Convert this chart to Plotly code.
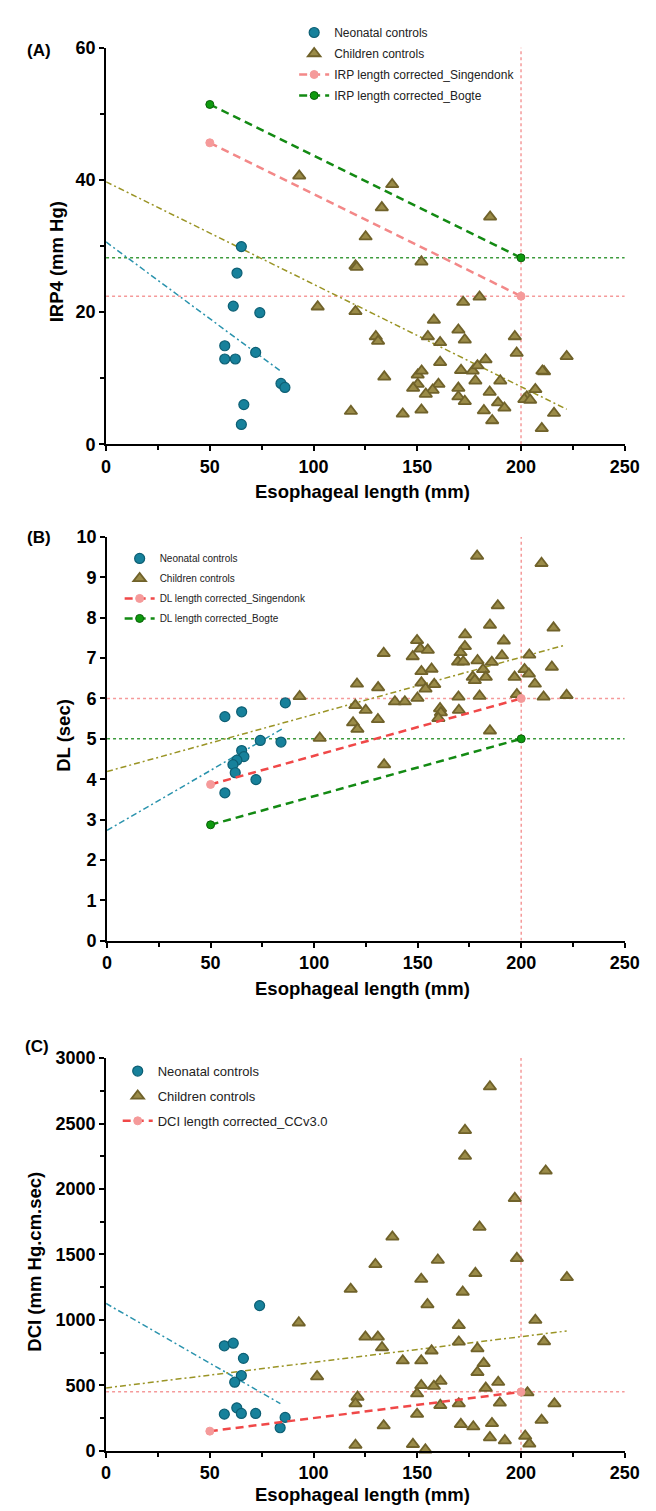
import plotly.graph_objects as go

W, H = 656, 1511

# ---------------- Panel A data (IRP4) ----------------
a_neo_x = [65.2, 63.1, 61.3, 74.1, 57.2, 57.2, 62.3, 72.1, 84.3, 86.2, 66.4, 65.2]
a_neo_y = [29.9, 25.9, 20.9, 19.9, 14.9, 12.9, 12.9, 13.9, 9.2, 8.6, 6.0, 3.0]
a_child_x = [93.1, 137.9, 132.9, 185.1, 125.1, 120.2, 120.8, 152.0, 180.0, 172.1,
             102.0, 120.2, 158.0, 169.8, 130.0, 131.1, 155.1, 172.9, 161.0, 197.0,
             197.9, 222.0, 182.9, 161.0, 134.1, 150.2, 152.1, 171.1, 176.7, 179.0,
             211.1, 210.3, 150.2, 160.2, 178.0, 190.0, 148.0, 157.4, 169.8, 206.9,
             154.1, 184.9, 169.8, 172.9, 202.8, 201.6, 204.4, 188.9, 192.0, 182.1,
             152.0, 118.0, 143.0, 215.9, 186.1, 210.0]
a_child_y = [40.6, 39.3, 35.8, 34.4, 31.4, 27.0, 26.8, 27.6, 22.3, 21.5,
             20.8, 20.1, 18.8, 17.3, 16.3, 15.6, 16.3, 15.8, 15.4, 16.3,
             13.8, 13.3, 12.8, 12.4, 10.2, 10.5, 11.1, 11.2, 11.1, 11.9,
             11.0, 11.1, 9.1, 9.1, 9.6, 9.6, 8.5, 8.2, 8.5, 8.3,
             7.6, 7.9, 7.2, 6.5, 7.2, 6.8, 6.7, 6.3, 5.5, 5.1,
             5.2, 5.0, 4.6, 4.7, 3.6, 2.4]
a_sing_x = [50, 200]
a_sing_y = [45.6, 22.4]
a_bogte_x = [50, 200]
a_bogte_y = [51.4, 28.2]
a_neo_fit_x = [0, 84]
a_neo_fit_y = [30.6, 11.1]
a_child_fit_x = [0, 222]
a_child_fit_y = [39.7, 5.3]

# ---------------- Panel B data (DL) ----------------
b_neo_x = [86.1, 56.9, 65.0, 74.0, 84.0, 65.0, 66.1, 62.7, 60.8, 61.9, 71.9, 56.9]
b_neo_y = [5.89, 5.55, 5.67, 4.96, 4.92, 4.71, 4.56, 4.47, 4.36, 4.16, 3.99, 3.66]
b_child_x = [178.7, 209.8, 188.7, 184.9, 215.6, 172.9, 149.7, 191.6, 151.3, 154.9,
             172.8, 133.6, 170.7, 147.6, 190.7, 203.9, 169.5, 172.0, 178.9, 185.8,
             151.8, 156.7, 181.6, 201.6, 203.7, 214.8, 176.6, 177.6, 182.9, 196.8,
             120.7, 130.9, 151.8, 153.8, 158.0, 206.6, 93.0, 149.9, 169.7, 179.9,
             197.9, 210.8, 221.9, 139.0, 143.8, 119.9, 160.8, 124.9, 161.2, 169.9,
             160.0, 130.8, 118.8, 120.9, 184.9, 102.7, 133.8]
b_child_y = [9.53, 9.35, 8.30, 7.82, 7.75, 7.58, 7.44, 7.43, 7.23, 7.20,
             7.29, 7.12, 7.14, 7.04, 7.06, 7.08, 6.91, 6.91, 6.94, 6.90,
             6.67, 6.73, 6.72, 6.72, 6.61, 6.78, 6.53, 6.45, 6.53, 6.53,
             6.36, 6.27, 6.39, 6.24, 6.35, 6.36, 6.05, 6.01, 6.04, 6.06,
             6.10, 6.04, 6.08, 5.92, 5.92, 5.83, 5.75, 5.71, 5.65, 5.71,
             5.51, 5.48, 5.40, 5.24, 5.20, 5.02, 4.36]
b_sing_x = [50, 200]
b_sing_y = [3.87, 6.0]
b_bogte_x = [50, 200]
b_bogte_y = [2.87, 5.0]
b_neo_fit_x = [0, 85]
b_neo_fit_y = [2.73, 5.26]
b_child_fit_x = [0, 221]
b_child_fit_y = [4.19, 7.32]

# ---------------- Panel C data (DCI) ----------------
c_neo_x = [74.0, 57.0, 61.3, 66.2, 65.2, 62.0, 57.0, 63.0, 65.2, 72.1, 86.3, 83.9]
c_neo_y = [1109, 802, 822, 706, 575, 524, 280, 328, 285, 285, 255, 176]
c_child_x = [185.0, 173.0, 173.0, 211.9, 197.0, 180.0, 138.0, 159.9, 198.0, 129.8,
             151.9, 178.0, 222.1, 117.9, 171.9, 154.9, 92.9, 206.9, 170.0, 125.0,
             131.0, 133.0, 170.0, 211.1, 179.0, 156.9, 143.0, 151.9, 182.0, 179.0,
             101.7, 161.2, 189.0, 151.9, 158.0, 183.0, 149.9, 203.1, 121.2, 120.2,
             161.1, 170.0, 189.8, 216.1, 149.9, 209.9, 133.8, 171.0, 177.0, 186.0,
             185.0, 192.2, 202.0, 120.2, 147.9, 204.0, 153.9]
c_child_y = [2781, 2448, 2251, 2138, 1929, 1709, 1634, 1457, 1470, 1424,
             1311, 1356, 1324, 1235, 1213, 1117, 978, 998, 958, 870,
             870, 789, 832, 834, 781, 764, 688, 688, 668, 600,
             567, 532, 524, 499, 494, 479, 436, 444, 411, 360,
             348, 360, 366, 360, 280, 234, 192, 202, 184, 209,
             101, 78, 113, 43, 50, 53, 8]
c_cc_x = [50, 200]
c_cc_y = [150, 450]
c_neo_fit_x = [0, 84]
c_neo_fit_y = [1125, 360]
c_child_fit_x = [0, 222]
c_child_fit_y = [480, 915]

# reference (threshold) lines
x_range = [0, 250]
a_thresholds = {"pink": 22.4, "green": 28.2}
b_thresholds = {"pink": 6.0, "green": 5.0}
c_thresholds = {"pink": 450}
vline_x = 200
a_yrange = [0, 60]
b_yrange = [0, 10]
c_yrange = [0, 3000]

# ---------------- styles ----------------
TEAL = "#17819b"
TEAL_EDGE = "#0d5f74"
OLIVE = "#9a8b48"
OLIVE_EDGE = "#70622a"
PINK = "#f59a9a"
PINK_LINE = "#f38888"
RED_LINE = "#f04848"
GREEN = "#0e9a0e"
GREEN_EDGE = "#0a5f0a"
GREEN_LINE = "#138a13"
FONT = "Liberation Sans, Arial, sans-serif"

fig = go.Figure()


def add_panel(xa, ya, leg, neo_x, neo_y, ch_x, ch_y, nfx, nfy, cfx, cfy,
              yrange, hlines, corr):
    # dotted reference lines
    for col, val in hlines:
        fig.add_trace(go.Scatter(x=x_range, y=[val, val], mode="lines",
                                 line=dict(color=col, width=1.5, dash="dot"),
                                 xaxis=xa, yaxis=ya, showlegend=False, hoverinfo="skip"))
    fig.add_trace(go.Scatter(x=[vline_x, vline_x], y=yrange, mode="lines",
                             line=dict(color=PINK, width=1.5, dash="dot"),
                             xaxis=xa, yaxis=ya, showlegend=False, hoverinfo="skip"))
    # regression lines
    fig.add_trace(go.Scatter(x=nfx, y=nfy, mode="lines",
                             line=dict(color="#2a93ad", width=1.5, dash="6px,3px,2px,3px"),
                             xaxis=xa, yaxis=ya, showlegend=False, hoverinfo="skip"))
    fig.add_trace(go.Scatter(x=cfx, y=cfy, mode="lines",
                             line=dict(color="#9a9425", width=1.5, dash="6px,3px,2px,3px"),
                             xaxis=xa, yaxis=ya, showlegend=False, hoverinfo="skip"))
    # data
    fig.add_trace(go.Scatter(x=neo_x, y=neo_y, mode="markers", name="Neonatal controls",
                             marker=dict(symbol="circle", size=10, color=TEAL,
                                         line=dict(color=TEAL_EDGE, width=1.2)),
                             cliponaxis=False, xaxis=xa, yaxis=ya, legend=leg,
                             legendgroup=leg + "n"))
    fig.add_trace(go.Scatter(x=ch_x, y=ch_y, mode="markers", name="Children controls",
                             marker=dict(symbol="triangle-up", size=11, color=OLIVE,
                                         line=dict(color=OLIVE_EDGE, width=1.8)),
                             cliponaxis=False, xaxis=xa, yaxis=ya, legend=leg,
                             legendgroup=leg + "c"))
    for i, (name, cx, cy, lcol, mcol, ecol) in enumerate(corr):
        fig.add_trace(go.Scatter(x=cx, y=cy, mode="lines+markers", name=name,
                                 line=dict(color=lcol, width=2.5, dash="8px,5px"),
                                 marker=dict(symbol="circle", size=8, color=mcol,
                                             line=dict(color=ecol, width=1)),
                                 cliponaxis=False, xaxis=xa, yaxis=ya, legend=leg,
                                 legendgroup=leg + "k%d" % i))


add_panel("x", "y", "legend", a_neo_x, a_neo_y, a_child_x, a_child_y,
          a_neo_fit_x, a_neo_fit_y, a_child_fit_x, a_child_fit_y, a_yrange,
          [(PINK, a_thresholds["pink"]), ("#3c9a3c", a_thresholds["green"])],
          [("IRP length corrected_Singendonk", a_sing_x, a_sing_y, PINK_LINE, PINK, PINK),
           ("IRP length corrected_Bogte", a_bogte_x, a_bogte_y, GREEN_LINE, GREEN, GREEN_EDGE)])
add_panel("x2", "y2", "legend2", b_neo_x, b_neo_y, b_child_x, b_child_y,
          b_neo_fit_x, b_neo_fit_y, b_child_fit_x, b_child_fit_y, b_yrange,
          [(PINK, b_thresholds["pink"]), ("#3c9a3c", b_thresholds["green"])],
          [("DL length corrected_Singendonk", b_sing_x, b_sing_y, RED_LINE, PINK, PINK),
           ("DL length corrected_Bogte", b_bogte_x, b_bogte_y, GREEN_LINE, GREEN, GREEN_EDGE)])
add_panel("x3", "y3", "legend3", c_neo_x, c_neo_y, c_child_x, c_child_y,
          c_neo_fit_x, c_neo_fit_y, c_child_fit_x, c_child_fit_y, c_yrange,
          [(PINK, c_thresholds["pink"])],
          [("DCI length corrected_CCv3.0", c_cc_x, c_cc_y, RED_LINE, PINK, PINK)])


def xd(p):
    return p / W


def yd(p):
    return 1 - p / H


tickfont = dict(family=FONT, size=18, color="black", weight="bold")


def xaxis(minor_dtick=25):
    return dict(range=x_range, dtick=50, showline=True, linecolor="black", linewidth=2,
                ticks="outside", ticklen=5, tickwidth=2, tickcolor="black",
                showgrid=False, zeroline=False, tickfont=tickfont,
                minor=dict(dtick=minor_dtick, ticks="outside", ticklen=4, tickwidth=2,
                           tickcolor="black", showgrid=False))


def yaxis(rng, dtick, minor_dtick):
    d = dict(range=rng, dtick=dtick, showline=True, linecolor="black", linewidth=2,
             ticks="outside", ticklen=5, tickwidth=2, tickcolor="black",
             showgrid=False, zeroline=False, tickfont=tickfont)
    if minor_dtick:
        d["minor"] = dict(dtick=minor_dtick, ticks="outside", ticklen=4, tickwidth=2,
                          tickcolor="black", showgrid=False)
    return d


xa = xaxis(); xa["domain"] = [xd(96), xd(631)]; xa["anchor"] = "y"
xb = xaxis(); xb["domain"] = [xd(97), xd(631)]; xb["anchor"] = "y2"
xc = xaxis(); xc["domain"] = [xd(96), xd(631)]; xc["anchor"] = "y3"
ya = yaxis(a_yrange, 20, 10); ya["domain"] = [yd(432), yd(30)]; ya["anchor"] = "x"
yb = yaxis(b_yrange, 1, None); yb["domain"] = [yd(935), yd(526)]; yb["anchor"] = "x2"
yc = yaxis(c_yrange, 500, 250); yc["domain"] = [yd(1452), yd(1054)]; yc["anchor"] = "x3"

annotations = []


def ann(text, px, py, angle=0, size=18.5):
    annotations.append(dict(text=text, x=xd(px), y=yd(py), xref="paper", yref="paper",
                            xanchor="center", yanchor="middle", showarrow=False,
                            textangle=angle,
                            font=dict(family=FONT, size=size, color="black", weight="bold")))


ann("(A)", 27, 33, size=17)
ann("(B)", 27, 526, size=17)
ann("(C)", 25, 1042, size=17)
ann("IRP4 (mm Hg)", 45, 247, -90)
ann("DL (sec)", 52, 727, -90)
ann("DCI (mm Hg.cm.sec)", 22, 1260, -90)
ann("Esophageal length (mm)", 360, 480)
ann("Esophageal length (mm)", 360, 984)
ann("Esophageal length (mm)", 360, 1496)


def legend(px, py, size, gap):
    return dict(x=xd(px), y=yd(py), xanchor="left", yanchor="top",
                bgcolor="rgba(0,0,0,0)", borderwidth=0,
                font=dict(family=FONT, size=size, color="#222"),
                tracegroupgap=gap, itemwidth=30)


fig.update_layout(
    width=W, height=H,
    margin=dict(l=0, r=0, t=0, b=0),
    paper_bgcolor="white", plot_bgcolor="white",
    xaxis=xa, yaxis=ya, xaxis2=xb, yaxis2=yb, xaxis3=xc, yaxis3=yc,
    annotations=annotations,
    legend=legend(290, 0, 12, 2),
    legend2=legend(110, 533, 10, 1),
    legend3=legend(108, 1052, 13, 5),
    showlegend=True,
)

fig.write_html("out.html")
